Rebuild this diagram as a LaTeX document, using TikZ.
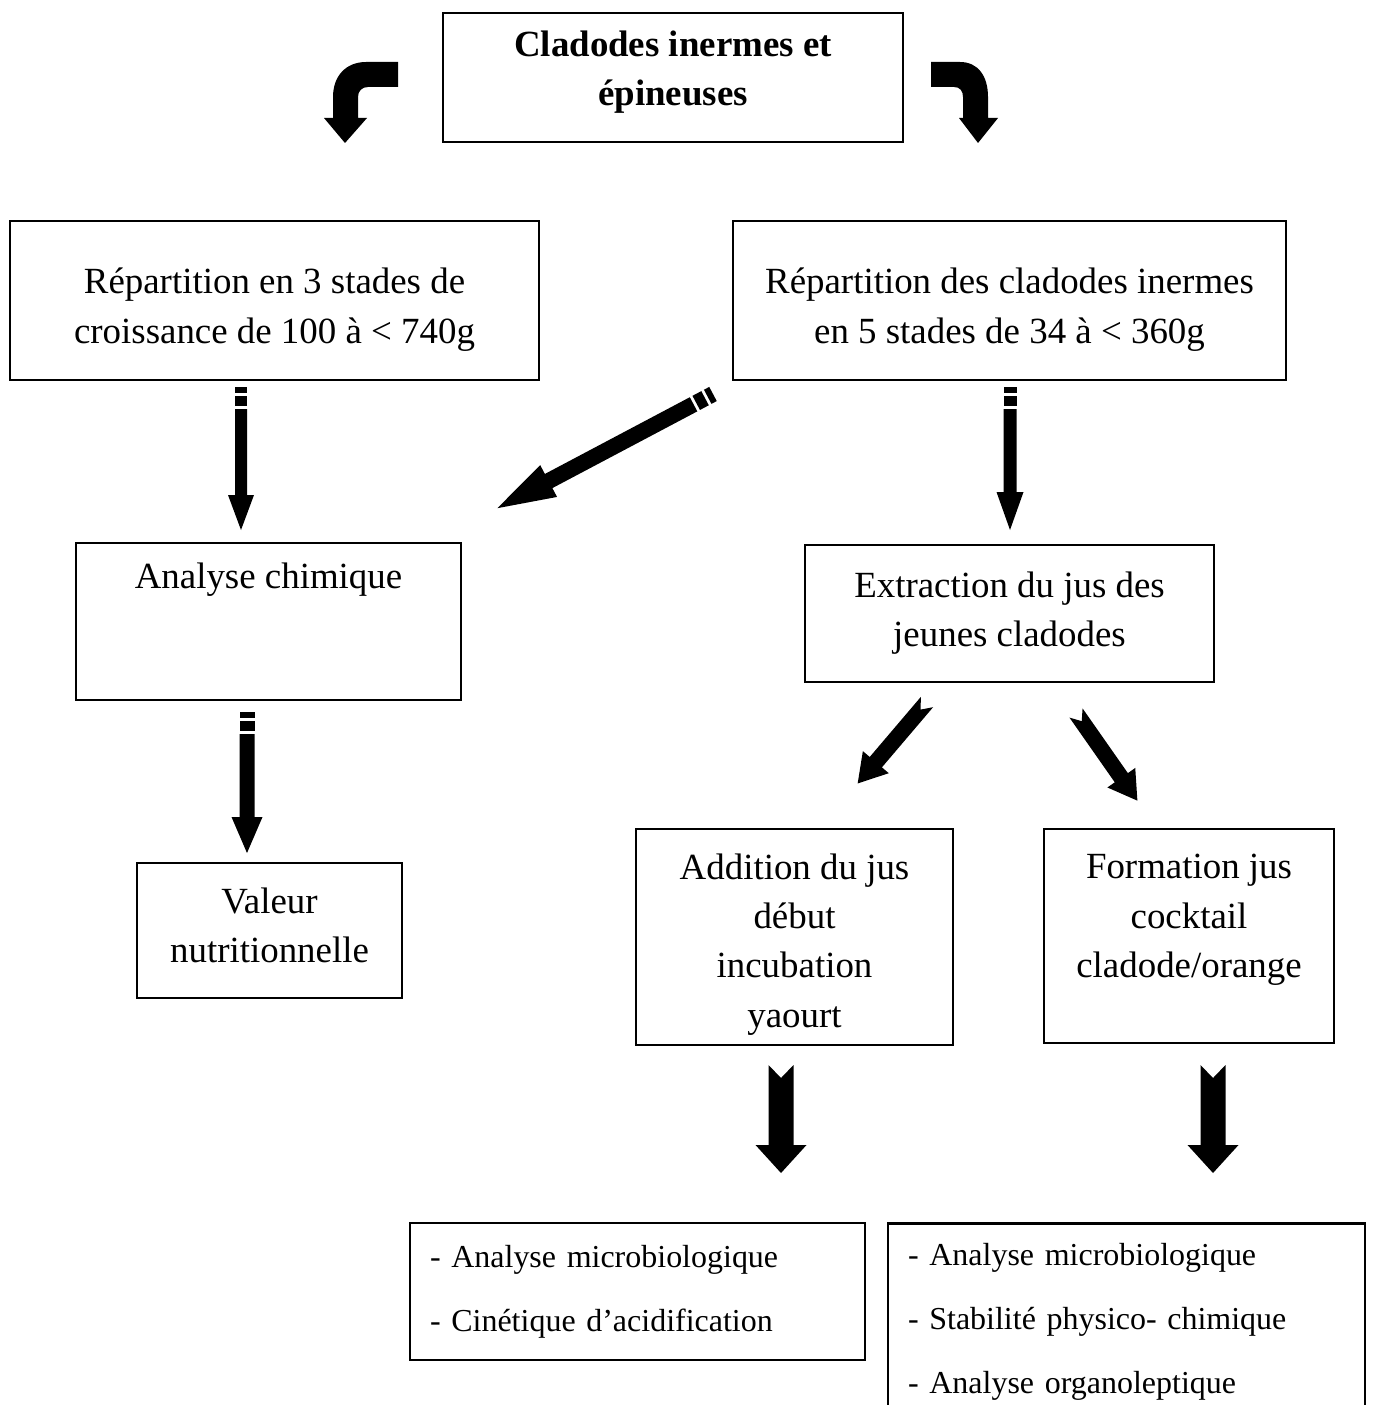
\documentclass[tikz,border=0pt]{standalone}
\usepackage{fontspec}
\setmainfont{Liberation Serif}
\usetikzlibrary{positioning}

\tikzset{
  box/.style={draw, line width=1.6pt, align=center, inner sep=0pt, font=\fontsize{21}{28}\selectfont},
  listbox/.style={draw, line width=1.6pt, align=left, inner ysep=0pt, inner xsep=0.4cm, font=\fontsize{18.2}{36.6}\selectfont},
}

% tail, angle, length, shaft, head, head length
\newcommand{\stripearrow}[6]{%
  \begin{scope}[shift={(#1)}, rotate=#2]
    \fill (0,-#4) rectangle (6,#4);
    \fill (9,-#4) rectangle (19,#4);
    \fill (22,-#4) -- ({#3-#6},-#4) -- ({#3-#6},-#5) -- (#3,0) -- ({#3-#6},#5) -- ({#3-#6},#4) -- (22,#4) -- cycle;
  \end{scope}}
% tail, angle, length, shaft, head, head length, notch
\newcommand{\notcharrow}[7]{%
  \begin{scope}[shift={(#1)}, rotate=#2]
    \fill (0,-#4) -- ({#3-#6},-#4) -- ({#3-#6},-#5) -- (#3,0) -- ({#3-#6},#5) -- ({#3-#6},#4) -- (0,#4) -- (#7,0) -- cycle;
  \end{scope}}

\begin{document}
\begin{tikzpicture}[x=0.02cm, y=-0.02cm, line join=miter]
    % frame
    \useasboundingbox (0,0) rectangle (1373,1405);
    \clip (0,0) rectangle (1373,1405);

    % boxes
    \node[box, font=\fontsize{21}{28}\selectfont\bfseries, minimum width=9.2cm, minimum height=2.58cm, text depth=11pt] (cladodes) at (673,77.5) {Cladodes inermes et\\épineuses};
    \node[box, minimum width=10.58cm, minimum height=3.18cm, text height=53pt] (trois) at (274.5,300.5) {Répartition en 3 stades de\\croissance de 100 à < 740g};
    \node[box, minimum width=11.06cm, minimum height=3.18cm, text height=53pt] (cinq) at (1009.5,300.5) {Répartition des cladodes inermes\\en 5 stades de 34 à < 360g};
    \node[box, minimum width=7.7cm, minimum height=3.14cm, text height=15pt, text depth=52pt] (chimique) at (268.5,621.5) {Analyse chimique};
    \node[box, minimum width=8.18cm, minimum height=2.74cm] (extraction) at (1009.5,613.5) {Extraction du jus des\\jeunes cladodes};
    \node[box, minimum width=5.3cm, minimum height=2.7cm, text depth=6pt] (valeur) at (269.5,930.5) {Valeur\\nutritionnelle};
    \node[box, minimum width=6.34cm, minimum height=4.32cm, text height=107pt] (yaourt) at (794.5,937) {Addition du jus\\début\\incubation\\yaourt};
    \node[box, minimum width=5.8cm, minimum height=4.28cm, text depth=23pt] (cocktail) at (1189,936) {Formation jus\\cocktail\\cladode/orange};

    % analyses
    \node[listbox, text width=8.3cm, minimum height=2.74cm] (anayaourt) at (637.5,1291.5) {- Analyse microbiologique\\- Cinétique d’acidification};
    \node[listbox, text width=8.74cm, minimum height=3.94cm] (anacocktail) at (1126.5,1322) {- Analyse microbiologique\\- Stabilité physico- chimique\\- Analyse organoleptique};

    % curved arrows
    \fill (398,62) -- (366,62) .. controls (346,62) and (333,76) .. (333,97) -- (333,118) -- (324,118) -- (345,143) -- (367,118) -- (358,118) -- (358,97) .. controls (358,91) and (362,87) .. (368,87) -- (398,87) -- cycle;
    \fill (931,62) -- (960,62) .. controls (978,62) and (988,76) .. (988,97) -- (988,118) -- (998,118) -- (978,143) -- (959,118) -- (963,118) -- (963,97) .. controls (963,91) and (960,87) .. (954,87) -- (931,87) -- cycle;

    % striped arrows
    \coordinate (s1) at (241,387);
    \coordinate (s2) at (247,712);
    \coordinate (s3) at (1010,387);
    \coordinate (s4) at (713,394);
    \stripearrow{s1}{-90}{143}{6}{13}{35}
    \stripearrow{s2}{-90}{141}{7.5}{15.5}{36}
    \stripearrow{s3}{-90}{143}{6.5}{13.5}{38}
    \stripearrow{s4}{207.9}{244}{8}{18}{58}

    % notched arrows
    \coordinate (n1) at (927,702);
    \coordinate (n2) at (1076,713);
    \coordinate (n3) at (781,1065);
    \coordinate (n4) at (1213,1065);
    \notcharrow{n1}{229.6}{107}{8}{17}{28}{10}
    \notcharrow{n2}{-55}{107}{8}{17}{28}{10}
    \notcharrow{n3}{-90}{108}{12.5}{25.5}{28}{13}
    \notcharrow{n4}{-90}{108}{12.5}{25.5}{28}{13}

\end{tikzpicture}
\end{document}
